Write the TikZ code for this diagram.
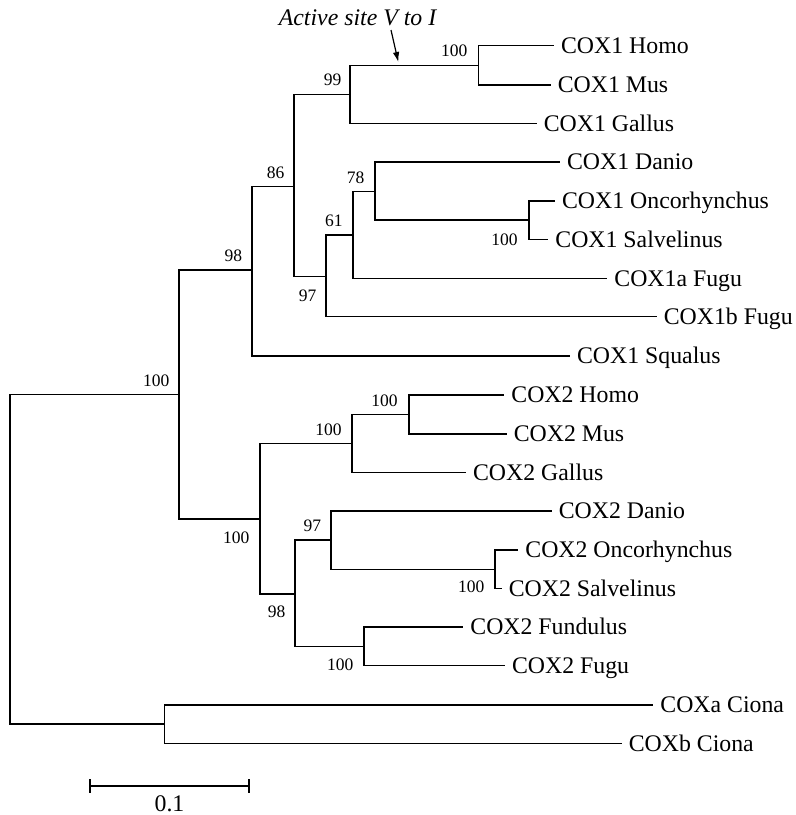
\documentclass[tikz,border=0pt]{standalone}
\usepackage{fontspec}
\setmainfont{Liberation Serif}
\usetikzlibrary{arrows.meta}

\begin{document}
\begin{tikzpicture}[x=1pt,y=-1pt,line width=1.2pt,
	leaf/.style={anchor=west,inner xsep=6.5pt,inner ysep=0pt,text height=15.6pt,text depth=0pt,font=\fontsize{23.8}{26}\selectfont},
	boot/.style={anchor=base east,inner sep=0pt,font=\fontsize{17.5}{20}\selectfont}]
	\useasboundingbox (0,0) rectangle (796,815);
	\coordinate (root) at (10,559);
	\coordinate (nCOX) at (179,394.3);
	\coordinate (nCOX1) at (252,270);
	\coordinate (n86) at (294,186.7);
	\coordinate (n99) at (350,94.3);
	\coordinate (n1hm) at (478.3,65.5);
	\coordinate (n97a) at (326,276.7);
	\coordinate (n61) at (353,235);
	\coordinate (n78) at (375,191.7);
	\coordinate (n1os) at (529,220);
	\coordinate (nCOX2) at (260,519);
	\coordinate (n2mg) at (352,443.3);
	\coordinate (n2hm) at (409,414.3);
	\coordinate (n98b) at (295,594);
	\coordinate (n97b) at (331,540);
	\coordinate (n2os) at (495,569.2);
	\coordinate (n2ff) at (364,646.7);
	\coordinate (nCiona) at (164.3,724);
	\node[leaf] (c1homo) at (554,45.3) {COX1 Homo};
	\node[leaf] (c1mus) at (550.7,85) {COX1 Mus};
	\node[leaf] (c1gallus) at (536.7,123.7) {COX1 Gallus};
	\node[leaf] (c1danio) at (560,162) {COX1 Danio};
	\node[leaf] (c1onco) at (555,201) {COX1 Oncorhynchus};
	\node[leaf] (c1salv) at (548.3,239.3) {COX1 Salvelinus};
	\node[leaf] (c1afugu) at (607.3,278.3) {COX1a Fugu};
	\node[leaf] (c1bfugu) at (656.7,316.7) {COX1b Fugu};
	\node[leaf] (c1squal) at (570,356) {COX1 Squalus};
	\node[leaf] (c2homo) at (504.3,395) {COX2 Homo};
	\node[leaf] (c2mus) at (506.7,434) {COX2 Mus};
	\node[leaf] (c2gallus) at (466,472.3) {COX2 Gallus};
	\node[leaf] (c2danio) at (551.7,511) {COX2 Danio};
	\node[leaf] (c2onco) at (518.3,550) {COX2 Oncorhynchus};
	\node[leaf] (c2salv) at (501.7,588.3) {COX2 Salvelinus};
	\node[leaf] (c2fund) at (463.3,627) {COX2 Fundulus};
	\node[leaf] (c2fugu) at (505,665.7) {COX2 Fugu};
	\node[leaf] (cxaciona) at (653.3,705) {COXa Ciona};
	\node[leaf] (cxbciona) at (621.7,743.3) {COXb Ciona};
	\draw (root) |- (nCOX) (root) |- (nCiona);
	\draw (nCOX) |- (nCOX1) (nCOX) |- (nCOX2);
	\draw (nCOX1) |- (n86) (nCOX1) |- (c1squal.west);
	\draw (n86) |- (n99) (n86) |- (n97a);
	\draw (n99) |- (n1hm) (n99) |- (c1gallus.west);
	\draw (n1hm) |- (c1homo.west) (n1hm) |- (c1mus.west);
	\draw (n97a) |- (n61) (n97a) |- (c1bfugu.west);
	\draw (n61) |- (n78) (n61) |- (c1afugu.west);
	\draw (n78) |- (c1danio.west) (n78) |- (n1os);
	\draw (n1os) |- (c1onco.west) (n1os) |- (c1salv.west);
	\draw (nCOX2) |- (n2mg) (nCOX2) |- (n98b);
	\draw (n2mg) |- (n2hm) (n2mg) |- (c2gallus.west);
	\draw (n2hm) |- (c2homo.west) (n2hm) |- (c2mus.west);
	\draw (n98b) |- (n97b) (n98b) |- (n2ff);
	\draw (n97b) |- (c2danio.west) (n97b) |- (n2os);
	\draw (n2os) |- (c2onco.west) (n2os) |- (c2salv.west);
	\draw (n2ff) |- (c2fund.west) (n2ff) |- (c2fugu.west);
	\draw (nCiona) |- (cxaciona.west) (nCiona) |- (cxbciona.west);
	\node[boot] at (468,56.7) {100};
	\node[boot] at (342,85) {99};
	\node[boot] at (285,178) {86};
	\node[boot] at (365,183) {78};
	\node[boot] at (518.3,245) {100};
	\node[boot] at (343.3,226.7) {61};
	\node[boot] at (317,301.7) {97};
	\node[boot] at (242.7,261.7) {98};
	\node[boot] at (170,386.7) {100};
	\node[boot] at (250,543.3) {100};
	\node[boot] at (342.3,435) {100};
	\node[boot] at (398.3,406.7) {100};
	\node[boot] at (321.7,531.7) {97};
	\node[boot] at (286,617.3) {98};
	\node[boot] at (354,670.7) {100};
	\node[boot] at (485,592.7) {100};
	\node[anchor=base,inner sep=0pt,font=\fontsize{23.8}{26}\selectfont\itshape] (site) at (357.5,25) {Active site V to I};
	\coordinate (sitefrom) at (391,30);
	\coordinate (siteto) at (398.3,62);
	\draw[-{Latex[length=10pt,width=6.5pt]}] (sitefrom) -- (siteto);
	\coordinate (sbl) at (90,786);
	\coordinate (sbr) at (249,786);
	\draw (sbl) -- (sbr);
	\draw ([yshift=6.8pt]sbl) -- ([yshift=-6.8pt]sbl);
	\draw ([yshift=6.8pt]sbr) -- ([yshift=-6.8pt]sbr);
	\node[anchor=base,inner sep=0pt,font=\fontsize{23.8}{26}\selectfont] (sblabel) at (169.5,811) {0.1};
\end{tikzpicture}
\end{document}
